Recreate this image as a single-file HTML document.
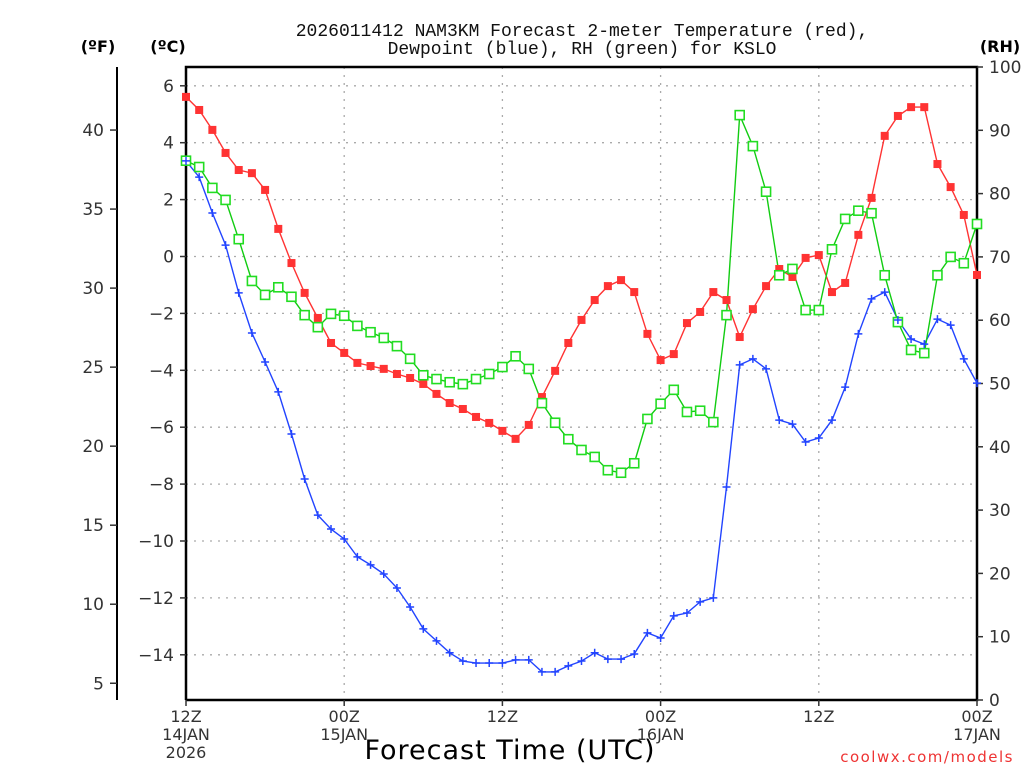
<!DOCTYPE html>
<html><head><meta charset="utf-8"><style>
html,body{margin:0;padding:0;background:#fff;}
svg{display:block;font-family:"DejaVu Sans","Liberation Sans",sans-serif;}
</style></head><body>
<svg id="chart" width="1024" height="768" viewBox="0 0 1024 768" xmlns="http://www.w3.org/2000/svg">
<rect width="1024" height="768" fill="#fff"/>
<text x="582" y="36" font-size="18" text-anchor="middle" fill="#111" font-family="Liberation Mono, monospace">2026011412 NAM3KM Forecast 2-meter Temperature (red),</text>
<text x="582" y="54" font-size="18" text-anchor="middle" fill="#111" font-family="Liberation Mono, monospace">Dewpoint (blue), RH (green) for KSLO</text>
<text x="98" y="52" font-size="16" font-weight="bold" text-anchor="middle">(ºF)</text>
<text x="168" y="52" font-size="16" font-weight="bold" text-anchor="middle">(ºC)</text>
<text x="1000" y="52" font-size="16" font-weight="bold" text-anchor="middle">(RH)</text>
<g id="grid"></g>
<g id="axes"></g>
<g id="series"></g>
<text x="510" y="759" font-size="27" text-anchor="middle" fill="#000" letter-spacing="1">Forecast Time (UTC)</text>
<text x="1014" y="762" font-size="15" text-anchor="end" fill="#e33" letter-spacing="1.5">coolwx.com/models</text>
</svg>
<script>
const tempC=[5.61,5.15,4.45,3.64,3.04,2.93,2.34,0.97,-0.23,-1.28,-2.16,-3.04,-3.39,-3.74,-3.85,-3.95,-4.13,-4.27,-4.48,-4.83,-5.15,-5.36,-5.64,-5.85,-6.13,-6.41,-5.92,-4.94,-4.02,-3.04,-2.23,-1.53,-1.04,-0.83,-1.25,-2.72,-3.64,-3.43,-2.34,-1.95,-1.25,-1.53,-2.83,-1.85,-1.04,-0.44,-0.72,-0.05,0.05,-1.25,-0.93,0.76,2.06,4.24,4.94,5.25,5.25,3.25,2.44,1.46,-0.65];
const dewC=[3.36,2.79,1.53,0.40,-1.28,-2.69,-3.71,-4.76,-6.24,-7.82,-9.09,-9.58,-9.93,-10.56,-10.84,-11.16,-11.65,-12.32,-13.09,-13.51,-13.93,-14.22,-14.29,-14.29,-14.29,-14.18,-14.18,-14.60,-14.60,-14.39,-14.22,-13.93,-14.15,-14.15,-13.97,-13.23,-13.41,-12.63,-12.53,-12.14,-12.00,-8.10,-3.81,-3.60,-3.95,-5.75,-5.89,-6.52,-6.38,-5.75,-4.59,-2.72,-1.49,-1.25,-2.23,-2.90,-3.08,-2.20,-2.41,-3.60,-4.45];
const rhPct=[85.2,84.2,80.9,79.0,72.8,66.2,64.0,65.2,63.7,60.8,58.9,61.0,60.7,59.1,58.1,57.2,55.9,53.9,51.3,50.7,50.2,49.9,50.7,51.5,52.6,54.3,52.3,46.9,43.8,41.2,39.5,38.4,36.3,35.9,37.4,44.4,46.8,49.0,45.5,45.7,43.9,60.8,92.4,87.5,80.3,67.1,68.1,61.6,61.6,71.2,76.0,77.3,76.9,67.1,59.7,55.3,54.8,67.1,70.0,69.0,75.2];
const cTicks=[6,4,2,0,-2,-4,-6,-8,-10,-12,-14];
const fTicks=[40,35,30,25,20,15,10,5];
const rhTicks=[100,90,80,70,60,50,40,30,20,10,0];
const xTickHours=[0,12,24,36,48,60];
const xTickLabels=[["12Z","14JAN","2026"],["00Z","15JAN"],["12Z"],["00Z","16JAN"],["12Z"],["00Z","17JAN"]];

const NS="http://www.w3.org/2000/svg";
const L=186,R=977,T=67,B=700;
const xOf=h=>L+(R-L)*h/60;
const yC=c=>256.5-28.45*c;
const yF=f=>yC((f-32)/1.8);
const yRH=r=>B-(B-T)*r/100;
function mk(tag,attrs,parent){const e=document.createElementNS(NS,tag);for(const k in attrs)e.setAttribute(k,attrs[k]);parent.appendChild(e);return e;}
const grid=document.getElementById('grid'),axes=document.getElementById('axes'),ser=document.getElementById('series');
cTicks.forEach(c=>{const g=mk('line',{x1:L,x2:R,y1:yC(c),y2:yC(c),stroke:'#aaa','stroke-width':1.3,'stroke-dasharray':'2,6'},grid);

});
xTickHours.slice(1,-1).forEach(h=>{const g=mk('line',{x1:xOf(h),x2:xOf(h),y1:T,y2:B,stroke:'#aaa','stroke-width':1.3,'stroke-dasharray':'2,6'},grid);

});
const fr=mk('path',{d:`M${L},${B}V${T}H${R}V${B}H${L}`,fill:'none',stroke:'#000','stroke-width':2.5},axes);


const fax=mk('line',{x1:117,x2:117,y1:T,y2:B,stroke:'#000','stroke-width':2},axes);


cTicks.forEach(c=>{mk('line',{x1:L-6,x2:L,y1:yC(c),y2:yC(c),stroke:'#333','stroke-width':1.5},axes);
const t=mk('text',{x:L-12,y:yC(c)+6,'font-size':17,'text-anchor':'end',fill:'#333'},axes);t.textContent=c<0?'\u2212'+(-c):String(c);

});
fTicks.forEach(f=>{mk('line',{x1:110,x2:117,y1:yF(f),y2:yF(f),stroke:'#333','stroke-width':1.5},axes);
const t=mk('text',{x:104,y:yF(f)+6,'font-size':17,'text-anchor':'end',fill:'#333'},axes);t.textContent=String(f);

});
rhTicks.forEach(r=>{mk('line',{x1:R,x2:R+6,y1:yRH(r),y2:yRH(r),stroke:'#333','stroke-width':1.5},axes);
const t=mk('text',{x:R+12,y:yRH(r)+6,'font-size':17,'text-anchor':'start',fill:'#333'},axes);t.textContent=String(r);

});
xTickHours.forEach((h,i)=>{mk('line',{x1:xOf(h),x2:xOf(h),y1:B,y2:B+6,stroke:'#333','stroke-width':1.5},axes);
xTickLabels[i].forEach((s,j)=>{const t=mk('text',{x:xOf(h),y:B+22+j*18,'font-size':16,'text-anchor':'middle',fill:'#333'},axes);t.textContent=s;

});});
function line(vals,yf,color,name){const pts=vals.map((v,i)=>xOf(i).toFixed(1)+','+yf(v).toFixed(1)).join(' ');
const p=mk('polyline',{points:pts,fill:'none',stroke:color,'stroke-width':1.4},ser);

}
line(tempC,yC,'#f33','temperature-line');
line(dewC,yC,'#2244ff','dewpoint-line');
line(rhPct,yRH,'#1c1','rh-line');
tempC.forEach((v,i)=>{const m=mk('rect',{x:xOf(i)-4,y:yC(v)-4,width:8,height:8,fill:'#f33'},ser);

});
rhPct.forEach((v,i)=>{const m=mk('rect',{x:xOf(i)-4.5,y:yRH(v)-4.5,width:9,height:9,fill:'#fff',stroke:'#2d2','stroke-width':1.6},ser);

});
dewC.forEach((v,i)=>{const x=xOf(i),y=yC(v);const m=mk('path',{d:`M${x-4},${y}H${x+4}M${x},${y-4}V${y+4}`,stroke:'#2244ff','stroke-width':1.5},ser);

});
</script>
</body></html>
